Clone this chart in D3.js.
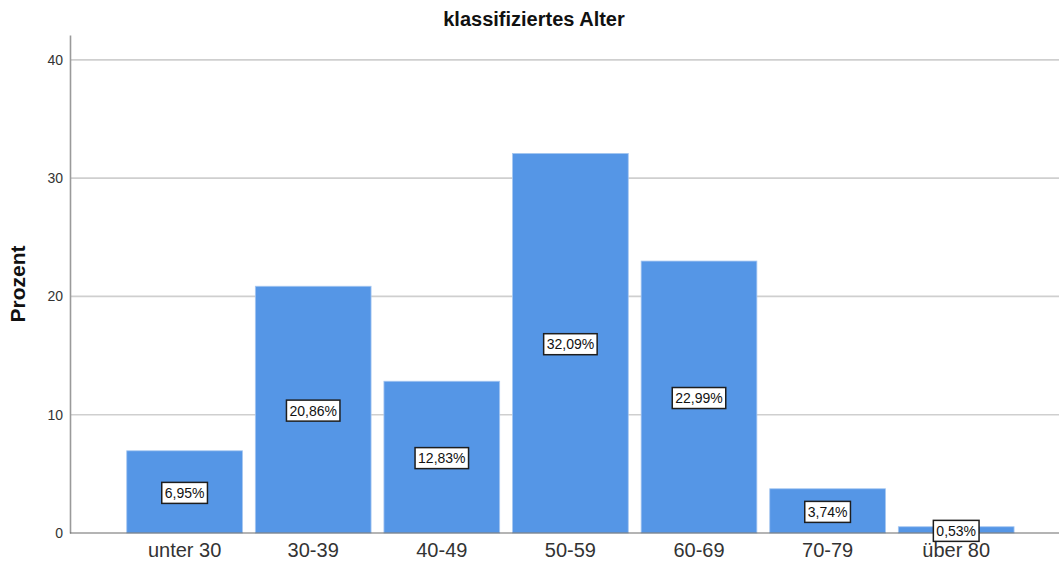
<!DOCTYPE html>
<html>
<head>
<meta charset="utf-8">
<script src="https://cdn.jsdelivr.net/npm/d3@7"></script>
<style>
  html, body { margin: 0; padding: 0; background: #fff; }
  svg { display: block; font-family: "Liberation Sans", Arial, sans-serif; }
</style>
</head>
<body>
<svg id="chart" width="1059" height="565"></svg>
<script>
// Altersklassen und Prozentanteile
const categories = ["unter 30", "30-39", "40-49", "50-59", "60-69", "70-79", "über 80"];
const percents = [6.95, 20.86, 12.83, 32.09, 22.99, 3.74, 0.53];
const yTicks = [0, 10, 20, 30, 40];
const title = "klassifiziertes Alter";
const yTitle = "Prozent";

const svg = d3.select("#chart");

const axisLeft = 70, plotRight = 1059;
const y = d3.scaleLinear().domain([0, 42.1]).range([533, 35]);
const x = d3.scaleBand()
  .domain(categories)
  .range([120.3, 1020.5])
  .paddingInner(0.1)
  .paddingOuter(0.05);

const fmt = v => d3.format(".2f")(v).replace(".", ",") + "%";

// Gitterlinien
svg.append("g")
  .selectAll("line")
  .data(yTicks.filter(d => d > 0))
  .join("line")
  .attr("x1", axisLeft).attr("x2", plotRight)
  .attr("y1", d => y(d)).attr("y2", d => y(d))
  .attr("stroke", "#cfcfcf")
  .attr("stroke-width", 1.6);

// Balken
svg.append("g")
  .selectAll("rect")
  .data(percents)
  .join("rect")
  .attr("x", (d, i) => x(categories[i]))
  .attr("y", d => y(d))
  .attr("width", x.bandwidth())
  .attr("height", d => y(0) - y(d))
  .attr("fill", "#5596e6")
  .attr("stroke", "#a6c7f1")
  .attr("stroke-width", 0.8);

// Y-Achse
const yAxis = svg.append("g")
  .attr("transform", `translate(${axisLeft},0)`)
  .call(d3.axisLeft(y).tickValues(yTicks).tickSize(0).tickPadding(7).tickFormat(d3.format("d")));
yAxis.select(".domain").attr("stroke", "#9a9a9a").attr("stroke-width", 1.6);
yAxis.selectAll("text")
  .attr("font-size", 14)
  .attr("fill", "#333")
  .attr("font-family", "Liberation Sans, Arial, sans-serif");

// X-Achse
const xAxis = svg.append("g")
  .attr("transform", `translate(0,${y(0)})`)
  .call(d3.axisBottom(x).tickSize(0).tickPadding(10));
xAxis.select(".domain").remove();
xAxis.selectAll("text")
  .attr("font-size", 20)
  .attr("fill", "#333")
  .attr("font-family", "Liberation Sans, Arial, sans-serif");
svg.append("line")
  .attr("x1", axisLeft).attr("x2", plotRight)
  .attr("y1", y(0)).attr("y2", y(0))
  .attr("stroke", "#6a6a6a")
  .attr("stroke-width", 1.2);

// Wertebeschriftungen
const labels = svg.append("g")
  .selectAll("g")
  .data(percents)
  .join("g")
  .attr("transform", (d, i) => `translate(${x(categories[i]) + x.bandwidth() / 2},${(y(d) + y(0)) / 2 + 1})`);
labels.append("text")
  .attr("text-anchor", "middle")
  .attr("dominant-baseline", "central")
  .attr("font-size", 14)
  .attr("fill", "#111")
  .text(d => fmt(d))
  .each(function() {
    const b = this.getBBox();
    d3.select(this.parentNode).insert("rect", "text")
      .attr("x", b.x - 3).attr("y", -10.5)
      .attr("width", b.width + 6).attr("height", 21)
      .attr("fill", "#fff")
      .attr("stroke", "#1e1e1e")
      .attr("stroke-width", 1.5);
  });

// Titel
svg.append("text")
  .attr("x", 534).attr("y", 26)
  .attr("text-anchor", "middle")
  .attr("font-size", 20)
  .attr("font-weight", "bold")
  .attr("fill", "#111")
  .text(title);

// Y-Achsentitel
svg.append("text")
  .attr("transform", `translate(25,284) rotate(-90)`)
  .attr("text-anchor", "middle")
  .attr("font-size", 21)
  .attr("font-weight", "bold")
  .attr("fill", "#111")
  .text(yTitle);
</script>
</body>
</html>
